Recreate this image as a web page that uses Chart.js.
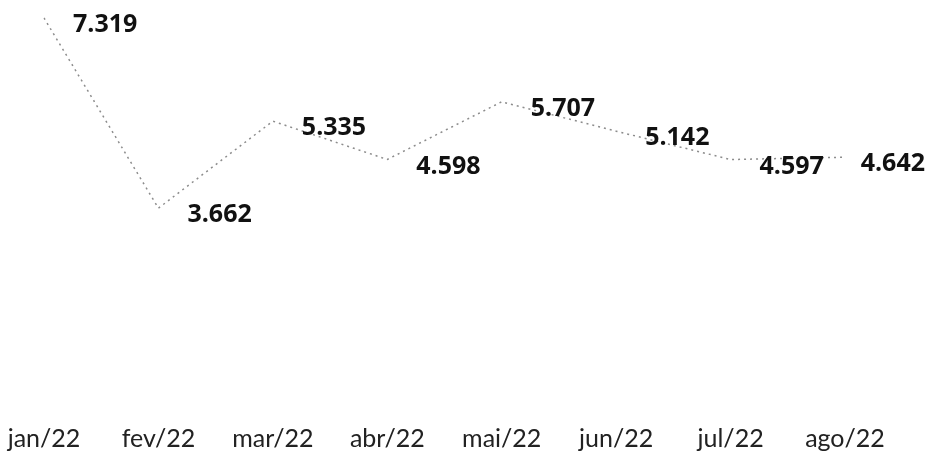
<!DOCTYPE html>
<html lang="pt">
<head>
    <meta charset="UTF-8">
    <title>Série mensal</title>
    <script src="https://cdn.jsdelivr.net/npm/chart.js"></script>
    <style>
        html, body { margin: 0; padding: 0; background: #fff; }
        #wrap { width: 928px; height: 451px; }
    </style>
</head>
<body>
    <div id="wrap"><canvas id="lineChart"></canvas></div>

    <script>
        // Dados
        const months = ['jan/22', 'fev/22', 'mar/22', 'abr/22', 'mai/22', 'jun/22', 'jul/22', 'ago/22'];
        const values = [7.319, 3.662, 5.335, 4.598, 5.707, 5.142, 4.597, 4.642];
        const valueLabels = ['7.319', '3.662', '5.335', '4.598', '5.707', '5.142', '4.597', '4.642'];

        // Rótulos de valor à direita de cada ponto (sem sair do canvas)
        const valueLabelPlugin = {
            id: 'valueLabels',
            afterDatasetsDraw(chart) {
                const ctx = chart.ctx;
                const meta = chart.getDatasetMeta(0);
                ctx.save();
                ctx.font = 'bold 25px "Open Sans"';
                ctx.fillStyle = '#111';
                ctx.textAlign = 'left';
                ctx.textBaseline = 'middle';
                meta.data.forEach((pt, i) => {
                    const w = ctx.measureText(valueLabels[i]).width;
                    const x = Math.min(pt.x + 29, chart.width - w - 3);
                    ctx.fillText(valueLabels[i], x, pt.y + 7);
                });
                ctx.restore();
            }
        };

        const ctx = document.getElementById('lineChart').getContext('2d');
        new Chart(ctx, {
            type: 'line',
            data: {
                labels: months,
                datasets: [{
                    data: values,
                    borderColor: '#8c8c8c',
                    borderWidth: 1.5,
                    borderDash: [2, 4],
                    pointRadius: 0,
                    tension: 0,
                    fill: false
                }]
            },
            options: {
                responsive: true,
                maintainAspectRatio: false,
                animation: false,
                layout: { padding: { left: 44, right: 83, top: 0, bottom: -3 } },
                plugins: {
                    legend: { display: false },
                    tooltip: { enabled: false }
                },
                scales: {
                    x: {
                        offset: false,
                        grid: { display: false, drawTicks: false },
                        border: { display: false },
                        ticks: {
                            padding: 0,
                            color: '#222',
                            font: { family: 'Lato', size: 25 },
                            maxRotation: 0,
                            autoSkip: false
                        },
                        // a área do gráfico fica só com o padding do layout
                        afterFit(scale) {
                            scale.paddingLeft = 0;
                            scale.paddingRight = 0;
                        }
                    },
                    y: {
                        display: false,
                        min: -0.489,
                        max: 7.665
                    }
                }
            },
            plugins: [valueLabelPlugin]
        });
    </script>
</body>
</html>
